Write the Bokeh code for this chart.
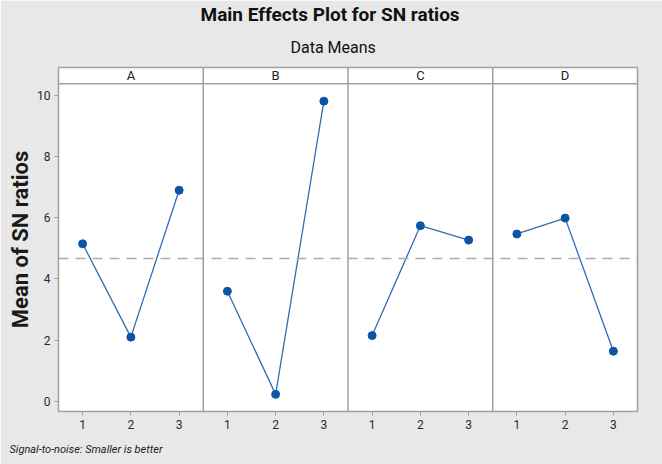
from bokeh.plotting import figure
from bokeh.models import Span, Label, FixedTicker, Range1d, Title
from bokeh.embed import file_html
from bokeh.resources import INLINE

# ---- data ----
factors = ["A", "B", "C", "D"]
levels = [1, 2, 3]
level_labels = ["1", "2", "3"]
A_means = [5.15, 2.10, 6.90]
B_means = [3.60, 0.23, 9.81]
C_means = [2.15, 5.74, 5.27]
D_means = [5.47, 5.99, 1.64]
grand_mean = 4.67
y_ticks = [0, 2, 4, 6, 8, 10]

series = [A_means, B_means, C_means, D_means]

W, H = 662, 464
L, R, T, B = 58, 25, 67, 53
x0, x1 = 0.5, 12.5
y0, y1 = -0.33, 10.91
FONT = "Roboto"

p = figure(width=W, height=H, output_backend="svg", toolbar_location=None,
           x_range=Range1d(x0, x1), y_range=Range1d(y0, y1),
           min_border_left=L, min_border_right=R, min_border_top=0, min_border_bottom=0)

p.border_fill_color = "#e8e8e8"
p.background_fill_color = "white"
p.outline_line_color = "#a0a0a0"
p.outline_line_width = 1.5
p.xgrid.visible = False
p.ygrid.visible = False

fw, fh = W - L - R, H - T - B
def dy(py):
    return y1 - (py - T) / fh * (y1 - y0)

# axes
tick_pos = []
overrides = {}
for i in range(len(factors)):
    for lv, lab in zip(levels, level_labels):
        pos = lv + 3 * i
        tick_pos.append(pos)
        overrides[pos] = lab
p.xaxis.ticker = FixedTicker(ticks=tick_pos)
p.xaxis.major_label_overrides = overrides
p.yaxis.ticker = FixedTicker(ticks=y_ticks)
for ax in (p.xaxis, p.yaxis):
    ax.axis_line_color = "#a0a0a0"
    ax.major_tick_line_color = "#a0a0a0"
    ax.major_tick_in = 0
    ax.major_tick_out = 4
    ax.minor_tick_line_color = None
    ax.major_label_text_font = FONT
    ax.major_label_text_font_size = "12px"
    ax.major_label_text_color = "#2a2a2a"
    ax.major_label_standoff = 4
p.yaxis.axis_label = "Mean of SN ratios"
p.yaxis.axis_label_text_font = FONT
p.yaxis.axis_label_text_font_size = "22px"
p.yaxis.axis_label_text_font_style = "bold"
p.yaxis.axis_label_text_color = "#1a1a1a"
p.yaxis.axis_label_standoff = 1

p.add_layout(Span(location=grand_mean, dimension="width", line_color="#aaaaaa",
                  line_width=1.6, line_dash="10 7"))

for k in range(1, len(factors)):
    p.add_layout(Span(location=3 * k + 0.5, dimension="height",
                      line_color="#a0a0a0", line_width=1.5))
header_y = dy(83.3)
p.add_layout(Span(location=header_y, dimension="width", line_color="#a0a0a0", line_width=1.5))
for i, f in enumerate(factors):
    p.add_layout(Label(x=2 + 3 * i, y=(header_y + y1) / 2, text=f, text_align="center",
                       text_baseline="middle", text_font=FONT, text_font_size="13px",
                       text_color="#222222"))

for i, vals in enumerate(series):
    xs = [lv + 3 * i for lv in levels]
    p.line(xs, vals, line_color="#2f6db4", line_width=1.3)
    p.scatter(xs, vals, size=8, fill_color="#0b55a5", line_color="#0b55a5")

# titles (subtitle first = closest to the frame) and footnote
p.add_layout(Title(text="Data Means", align="left", offset=232, standoff=21,
                   text_font=FONT, text_font_size="16px", text_font_style="normal",
                   text_color="#111111"), "above")
p.add_layout(Title(text="Main Effects Plot for SN ratios", align="left", offset=142,
                   standoff=0, text_font=FONT, text_font_size="19px",
                   text_font_style="bold", text_color="#111111"), "above")
p.add_layout(Title(text="Signal-to-noise: Smaller is better", align="left", offset=-49,
                   standoff=18, text_font=FONT, text_font_size="11px",
                   text_font_style="italic", text_color="#222222"), "below")

open("out.html", "w").write(file_html(p, INLINE))
